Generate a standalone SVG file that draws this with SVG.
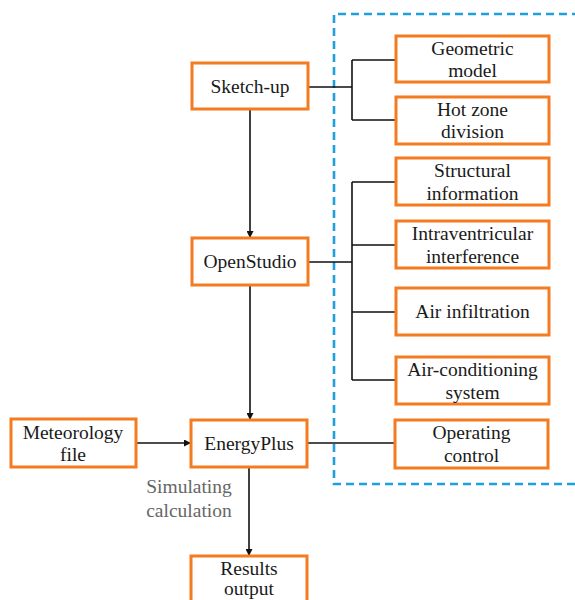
<svg xmlns="http://www.w3.org/2000/svg" width="575" height="600" viewBox="0 0 575 600">
<defs>
<marker id="arr" viewBox="0 0 10 10" refX="10" refY="5" markerWidth="7" markerHeight="7" markerUnits="userSpaceOnUse" orient="auto">
<path d="M0,0 L10,5 L0,10 Z" fill="#111"/>
</marker>
</defs>
<style>
.box{fill:#fff;stroke:#F47B20;stroke-width:3}
.t{font-family:"Liberation Serif","Times New Roman",serif;font-size:19.5px;fill:#1a1a1a;text-anchor:middle}
.lbl{font-family:"Liberation Serif","Times New Roman",serif;font-size:19.5px;fill:#666;text-anchor:middle}
.ln{fill:none;stroke:#111;stroke-width:1.6}
.dash{fill:none;stroke:#1E9FE0;stroke-width:2.6;stroke-dasharray:8 5}
</style>
<rect width="575" height="600" fill="#fff"/>
<path class="dash" d="M580,14 L334,14 L334,484 L580,484"/>
<g id="connectors">
<path class="ln" d="M308,87 H352 M352,60 V120 M352,60 H396 M352,120 H396"/>
<path class="ln" d="M308,262 H352 M352,182 V380 M352,182 H396 M352,245 H396 M352,312 H396 M352,380 H396"/>
<path class="ln" d="M307,443 H395"/>
<line class="ln" x1="250" y1="109" x2="250" y2="238" marker-end="url(#arr)"/>
<line class="ln" x1="250" y1="285" x2="250" y2="420" marker-end="url(#arr)"/>
<line class="ln" x1="136" y1="443" x2="191" y2="443" marker-end="url(#arr)"/>
<line class="ln" x1="249" y1="467" x2="249" y2="556" marker-end="url(#arr)"/>
<text class="lbl" x="189" y="493">Simulating</text>
<text class="lbl" x="189" y="517">calculation</text>
</g>
<g id="sketchup"><rect class="box" x="192" y="63" width="116" height="46"/><text class="t" x="250" y="93">Sketch-up</text></g>
<g id="openstudio"><rect class="box" x="192" y="238" width="116" height="47"/><text class="t" x="250" y="268">OpenStudio</text></g>
<g id="energyplus"><rect class="box" x="191" y="420" width="116" height="47"/><text class="t" x="249" y="450">EnergyPlus</text></g>
<g id="meteorology"><rect class="box" x="11" y="419" width="125" height="48"/><text class="t" x="73" y="439">Meteorology</text><text class="t" x="73" y="461">file</text></g>
<g id="results"><rect class="box" x="191" y="556" width="116" height="50"/><text class="t" x="249" y="575">Results</text><text class="t" x="249" y="595">output</text></g>
<g id="geometric"><rect class="box" x="396" y="36" width="153" height="46"/><text class="t" x="472.5" y="55">Geometric</text><text class="t" x="472.5" y="77">model</text></g>
<g id="hotzone"><rect class="box" x="396" y="97" width="153" height="47"/><text class="t" x="472.5" y="116">Hot zone</text><text class="t" x="472.5" y="138">division</text></g>
<g id="structural"><rect class="box" x="396" y="158" width="153" height="47"/><text class="t" x="472.5" y="177">Structural</text><text class="t" x="472.5" y="200">information</text></g>
<g id="intraventricular"><rect class="box" x="396" y="221" width="153" height="47"/><text class="t" x="472.5" y="240">Intraventricular</text><text class="t" x="472.5" y="263">interference</text></g>
<g id="airinfiltration"><rect class="box" x="396" y="288" width="153" height="47"/><text class="t" x="472.5" y="318">Air infiltration</text></g>
<g id="airconditioning"><rect class="box" x="396" y="357" width="153" height="47"/><text class="t" x="472.5" y="376">Air-conditioning</text><text class="t" x="472.5" y="399">system</text></g>
<g id="operating"><rect class="box" x="395" y="420" width="153" height="48"/><text class="t" x="471.5" y="439">Operating</text><text class="t" x="471.5" y="462">control</text></g>
</svg>
